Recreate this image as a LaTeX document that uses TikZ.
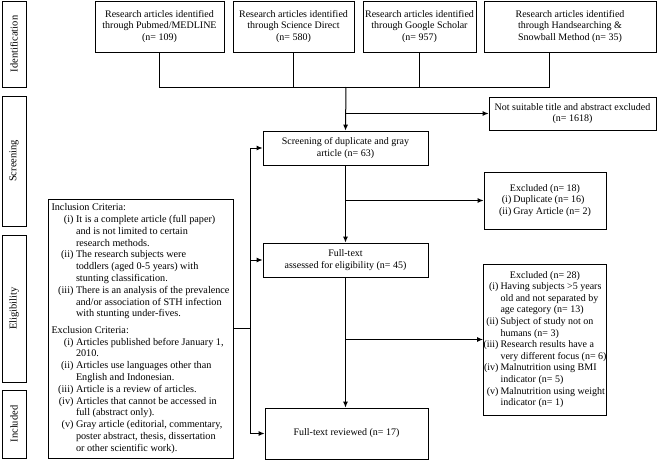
\documentclass[tikz,border=0pt]{standalone}
\usepackage{fontspec}
\setmainfont{Liberation Serif}
\usetikzlibrary{arrows.meta}
\newcommand{\fs}{\fontsize{10}{11.3}\selectfont}
\newcommand{\lb}[1]{\makebox[22pt][r]{#1}\hspace{2.5pt}}
\begin{document}
\begin{tikzpicture}[x=1pt,y=-1pt,
  box/.style={draw,line width=0.8pt,inner sep=0pt,align=center,font=\fs},
  stagebox/.style={draw,line width=0.8pt,inner sep=0pt,rotate=90,minimum height=24pt,font=\fontsize{10.5}{12}\selectfont},
  arr/.style={line width=1pt,-{Latex[length=6pt,width=5pt]}},
  ln/.style={line width=1pt}]
\useasboundingbox (0,0) rectangle (658,460);
% stage labels
\node[stagebox,minimum width=86pt] (sid) at (14,44) {Identification};
\node[stagebox,minimum width=130pt] (sscr) at (14,161) {Screening};
\node[stagebox,minimum width=147pt] (selig) at (14,308.5) {Eligibility};
\node[stagebox,minimum width=68pt] (sinc) at (14,424) {Included};
% top boxes
\node[box,minimum width=129pt,minimum height=51pt] (pm) at (159.5,26.5) {Research articles identified\\through Pubmed/MEDLINE\\(n= 109)};
\node[box,minimum width=121pt,minimum height=51pt] (sd) at (293.5,26.5) {Research articles identified\\through Science Direct\\(n= 580)};
\node[box,minimum width=113pt,minimum height=51pt] (gs) at (419.5,26.5) {Research articles identified\\through Google Scholar\\(n= 957)};
\node[box,minimum width=172pt,minimum height=51pt] (hs) at (570,26.5) {Research articles identified\\through Handsearching \&\\Snowball Method (n= 35)};
\coordinate (bar) at (346,87);
\coordinate (hsx) at (549,0);
\draw[ln] (pm.south) |- (bar);
\draw[ln] (sd.south) |- (bar);
\draw[ln] (gs.south) |- (bar);
\draw[ln] (hs.south -| hsx) |- (bar);
% flow boxes
\node[box,minimum width=167pt,minimum height=33pt] (ns) at (572.5,113.5) {Not suitable title and abstract excluded\\(n= 1618)};
\node[box,minimum width=165pt,minimum height=34pt] (sc) at (345.5,148) {Screening of duplicate and gray\\article (n= 63)};
\node[box,minimum width=122pt,minimum height=57pt] (ex1) at (545,200.5) {\begin{tabular}{@{}r@{\hspace{2pt}}l@{}}\multicolumn{2}{c}{Excluded (n= 18)}\\(i)&Duplicate (n= 16)\\(ii)&Gray Article (n= 2)\end{tabular}};
\node[box,minimum width=165pt,minimum height=34pt] (ft) at (345.5,260) {Full-text\\assessed for eligibility (n= 45)};
\node[box,minimum width=122pt,minimum height=151pt,font=\fontsize{10}{11.6}\selectfont] (ex2) at (545,339.5) {\begin{tabular}{@{}r@{\hspace{2pt}}l@{}}\multicolumn{2}{c}{Excluded (n= 28)}\\
(i)&Having subjects >5 years\\&old and not separated by\\&age category (n= 13)\\
(ii)&Subject of study not on\\&humans (n= 3)\\
(iii)&Research results have a\\&very different focus (n= 6)\\
(iv)&Malnutrition using BMI\\&indicator (n= 5)\\
(v)&Malnutrition using weight\\&indicator (n= 1)\end{tabular}};
\node[box,minimum width=163pt,minimum height=51pt] (rv) at (346.5,433.5) {Full-text reviewed (n= 17)};
\node[box,minimum width=185pt,minimum height=259pt,align=left,font=\fontsize{10.2}{11.8}\selectfont] (cr) at (140.5,328.5) {Inclusion Criteria:\\
\lb{(i)}It is a complete article (full paper)\\\lb{}and is not limited to certain\\\lb{}research methods.\\
\lb{(ii)}The research subjects were\\\lb{}toddlers (aged 0-5 years) with\\\lb{}stunting classification.\\
\lb{(iii)}There is an analysis of the prevalence\\\lb{}and/or association of STH infection\\\lb{}with stunting under-fives.\\[4.5pt]
Exclusion Criteria:\\
\lb{(i)}Articles published before January 1,\\\lb{}2010.\\
\lb{(ii)}Articles use languages other than\\\lb{}English and Indonesian.\\
\lb{(iii)}Article is a review of articles.\\
\lb{(iv)}Articles that cannot be accessed in\\\lb{}full (abstract only).\\
\lb{(v)}Gray article (editorial, commentary,\\\lb{}poster abstract, thesis, dissertation\\\lb{}or other scientific work).};
% main flow
\draw[arr] (bar) -- (sc.north);
\draw[arr] (bar |- ns.west) -- (ns.west);
\draw[arr] (sc.south) -- (ft.north);
\draw[arr] (sc.south |- ex1.west) -- (ex1.west);
\draw[arr] (ft.south) -- (ft.south |- rv.north);
\draw[arr] (ft.south |- ex2.west) -- (ex2.west);
% criteria connectors
\coordinate (cj) at (250,328.5);
\draw[ln] (cr.east) -- (cj);
\draw[arr] (cj) |- (sc.west);
\draw[arr] (cj) |- (ft.west);
\draw[arr] (cj) |- (rv.west);
\end{tikzpicture}
\end{document}
